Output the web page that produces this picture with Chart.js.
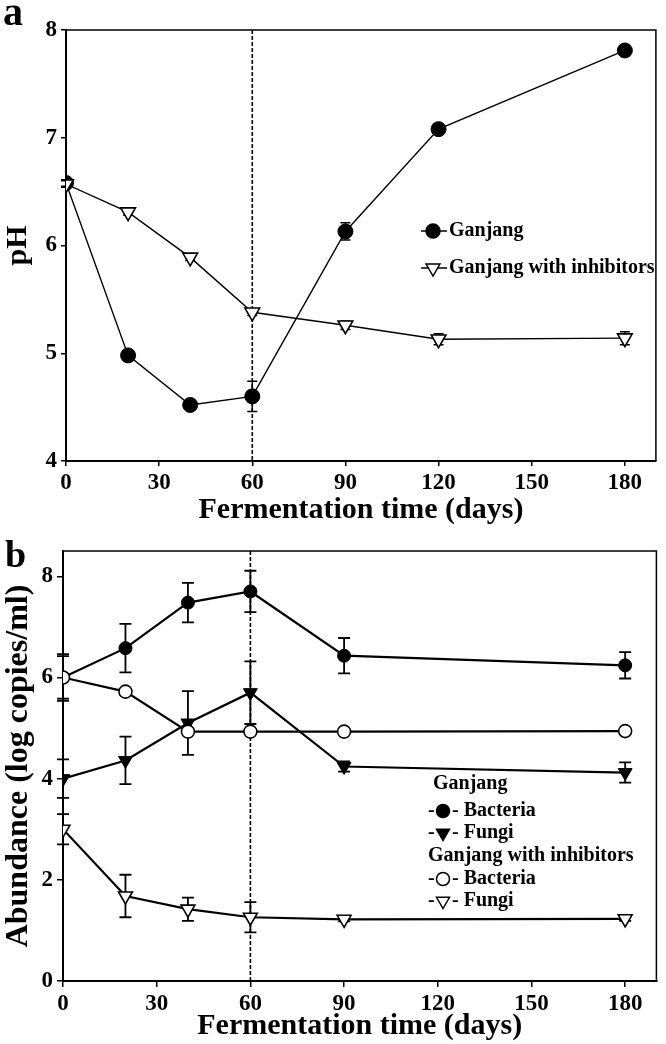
<!DOCTYPE html>
<html>
<head>
<meta charset="utf-8">
<script src="https://cdn.jsdelivr.net/npm/chart.js@4.4.0/dist/chart.umd.min.js"></script>
<style>
  body { margin: 0; background: #fff; }
  .panel { position: absolute; left: 0; width: 666px; }
  #panelA { top: 0; height: 530px; }
  #panelB { top: 530px; height: 514px; }
</style>
</head>
<body>
<div class="panel" id="panelA"><canvas id="chartA"></canvas></div>
<div class="panel" id="panelB"><canvas id="chartB"></canvas></div>
<script>
// panel a: pH
const daysA = [0, 20, 40, 60, 90, 120, 180];
const phGanjang = [6.58, 4.98, 4.52, 4.60, 6.13, 7.08, 7.81];
const phGanjangErr = [0.03, 0.05, 0.03, 0.14, 0.08, 0.03, 0.03];
const phInhib = [6.57, 6.31, 5.89, 5.38, 5.26, 5.13, 5.14];
const phInhibErr = [0.03, 0.03, 0.03, 0.03, 0.04, 0.05, 0.06];
const phTicks = [4, 5, 6, 7, 8];

// panel b: abundance
const daysB = [0, 20, 40, 60, 90, 180];
const bactGanjang = [6.0, 6.58, 7.48, 7.70, 6.43, 6.24];
const bactGanjangErr = [0.46, 0.48, 0.39, 0.41, 0.35, 0.26];
const fungiGanjang = [4.0, 4.36, 5.10, 5.70, 4.24, 4.12];
const fungiGanjangErr = [0.38, 0.47, 0.63, 0.62, 0.1, 0.2];
const bactInhib = [6.0, 5.72, 4.93, 4.93, 4.93, 4.94];
const bactInhibErr = [0.42, 0.04, 0.04, 0.04, 0.04, 0.04];
const fungiInhib = [3.0, 1.68, 1.42, 1.26, 1.22, 1.23];
const fungiInhibErr = [0.3, 0.42, 0.23, 0.3, 0.04, 0.04];
const abTicks = [0, 2, 4, 6, 8];

const dayTicks = [0, 30, 60, 90, 120, 150, 180];
const dividerDay = 60;

const SERIF = '"Liberation Serif", "Times New Roman", serif';

function pts(xs, ys) {
  return xs.map((x, i) => ({ x: x, y: ys[i] }));
}

function drawMarker(ctx, style, x, y, r, filled) {
  ctx.save();
  ctx.beginPath();
  if (style === 'circle') {
    ctx.arc(x, y, r, 0, Math.PI * 2);
  } else {
    // downward triangle
    ctx.moveTo(x - r * 0.866, y - r * 0.5);
    ctx.lineTo(x + r * 0.866, y - r * 0.5);
    ctx.lineTo(x, y + r);
    ctx.closePath();
  }
  ctx.fillStyle = filled ? '#000' : '#fff';
  ctx.fill();
  ctx.lineWidth = 1.5;
  ctx.strokeStyle = '#000';
  ctx.stroke();
  ctx.restore();
}

// error bars + dashed day-60 line, under the markers
const underlay = {
  id: 'underlay',
  beforeDatasetsDraw(chart) {
    const { ctx, chartArea, scales } = chart;
    const xd = scales.x.getPixelForValue(dividerDay);
    ctx.save();
    ctx.strokeStyle = '#000';
    ctx.lineWidth = 1.6;
    ctx.setLineDash([4, 2]);
    ctx.beginPath();
    ctx.moveTo(xd, chartArea.top);
    ctx.lineTo(xd, chartArea.bottom);
    ctx.stroke();
    ctx.setLineDash([]);

    chart.data.datasets.forEach((ds, i) => {
      if (!ds.errors) return;
      const meta = chart.getDatasetMeta(i);
      meta.data.forEach((p, j) => {
        const v = ds.data[j].y;
        const e = ds.errors[j];
        const yHi = scales.y.getPixelForValue(v + e);
        const yLo = scales.y.getPixelForValue(v - e);
        const cw = ds.capWidth;
        ctx.lineWidth = ds.errWidth;
        ctx.beginPath();
        ctx.moveTo(p.x, yHi); ctx.lineTo(p.x, yLo);
        ctx.moveTo(p.x - cw, yHi); ctx.lineTo(p.x + cw, yHi);
        ctx.moveTo(p.x - cw, yLo); ctx.lineTo(p.x + cw, yLo);
        ctx.stroke();
      });
    });
    ctx.restore();
  }
};

// top/right frame, panel letter and legend
const overlay = {
  id: 'overlay',
  afterDraw(chart) {
    const { ctx, chartArea } = chart;
    const o = chart.options.plugins.overlay;
    ctx.save();
    ctx.strokeStyle = '#000';
    ctx.lineWidth = 1.5;
    ctx.beginPath();
    ctx.moveTo(chartArea.left, chartArea.top);
    ctx.lineTo(chartArea.right, chartArea.top);
    ctx.lineTo(chartArea.right, chartArea.bottom);
    ctx.stroke();

    ctx.fillStyle = '#000';
    ctx.textBaseline = 'alphabetic';
    ctx.textAlign = 'left';
    ctx.font = 'bold ' + o.letterSize + 'px ' + SERIF;
    ctx.fillText(o.letter, o.letterX, o.letterY);

    ctx.font = 'bold 20px ' + SERIF;
    ctx.textBaseline = 'middle';
    o.items.forEach(it => {
      ctx.fillStyle = '#000';
      if (it.kind === 'header') {
        ctx.fillText(it.text, it.x, it.y);
      } else if (it.kind === 'line') {
        ctx.lineWidth = 1.5;
        ctx.beginPath();
        ctx.moveTo(it.x, it.y); ctx.lineTo(it.x + 26, it.y);
        ctx.stroke();
        drawMarker(ctx, it.style, it.x + 12, it.y, it.r, it.filled);
        ctx.fillText(it.text, it.x + 28, it.y);
      } else {
        ctx.fillText('-', it.x, it.y);
        drawMarker(ctx, it.style, it.x + 15, it.y, it.r, it.filled);
        ctx.fillText('- ' + it.text, it.x + 24, it.y);
      }
    });
    ctx.restore();
  }
};

function makeScales(yMin, yMax, yTicks, yTitle, yTitleSize, yWidth, xHeight, tickLen, xTitlePad) {
  const font = { family: SERIF, size: 23, weight: 'bold' };
  return {
    x: {
      type: 'linear', min: 0, max: 190,
      afterBuildTicks: s => { s.ticks = dayTicks.map(v => ({ value: v })); },
      afterFit: s => { s.height = xHeight; },
      grid: { drawOnChartArea: false, drawTicks: true, tickLength: tickLen, color: '#000', lineWidth: 1.5 },
      border: { display: true, color: '#000', width: 2 },
      ticks: { color: '#000', font: font, padding: 3, maxRotation: 0 },
      title: {
        display: true, text: 'Fermentation time (days)', color: '#000',
        font: { family: SERIF, size: 30, weight: 'bold' }, padding: { top: 0, bottom: xTitlePad }
      }
    },
    y: {
      type: 'linear', min: yMin, max: yMax,
      afterBuildTicks: s => { s.ticks = yTicks.map(v => ({ value: v })); },
      afterFit: s => { s.width = yWidth; },
      grid: { drawOnChartArea: false, drawTicks: true, tickLength: tickLen, color: '#000', lineWidth: 1.5 },
      border: { display: true, color: '#000', width: 2 },
      ticks: { color: '#000', font: font, padding: 4 },
      title: {
        display: true, text: yTitle, color: '#000',
        font: { family: SERIF, size: yTitleSize, weight: 'bold' }, padding: { top: 0, bottom: 0 }
      }
    }
  };
}

new Chart('chartA', {
  type: 'line',
  data: {
    datasets: [
      {
        label: 'Ganjang', data: pts(daysA, phGanjang), errors: phGanjangErr, order: 2,
        borderColor: '#000', borderWidth: 1.4, tension: 0,
        pointStyle: 'circle', pointRadius: 7.5, pointBackgroundColor: '#000',
        pointBorderColor: '#000', pointBorderWidth: 1, capWidth: 5, errWidth: 1.5
      },
      {
        label: 'Ganjang with inhibitors', data: pts(daysA, phInhib), errors: phInhibErr, order: 1,
        borderColor: '#000', borderWidth: 1.4, tension: 0,
        pointStyle: 'triangle', pointRotation: 180, pointRadius: 8.5, pointBackgroundColor: '#fff',
        pointBorderColor: '#000', pointBorderWidth: 1.6, capWidth: 5, errWidth: 1.5
      }
    ]
  },
  options: {
    responsive: true, maintainAspectRatio: false, animation: false,
    layout: { padding: { top: 30, right: 1, left: 0, bottom: 0 } },
    scales: makeScales(4, 8, phTicks, 'pH', 30, 66, 69, 5, 2),
    plugins: {
      legend: { display: false }, tooltip: { enabled: false },
      overlay: {
        letter: 'a', letterSize: 40, letterX: 3, letterY: 25,
        items: [
          { kind: 'line', text: 'Ganjang', style: 'circle', filled: true, r: 7, x: 421, y: 231 },
          { kind: 'line', text: 'Ganjang with inhibitors', style: 'tri', filled: false, r: 8, x: 421, y: 268 }
        ]
      }
    }
  },
  plugins: [underlay, overlay]
});

new Chart('chartB', {
  type: 'line',
  data: {
    datasets: [
      {
        label: 'Ganjang Bacteria', data: pts(daysB, bactGanjang), errors: bactGanjangErr, order: 2,
        borderColor: '#000', borderWidth: 2.2, tension: 0,
        pointStyle: 'circle', pointRadius: 6.5, pointBackgroundColor: '#000',
        pointBorderColor: '#000', pointBorderWidth: 1, capWidth: 6, errWidth: 1.8
      },
      {
        label: 'Ganjang Fungi', data: pts(daysB, fungiGanjang), errors: fungiGanjangErr, order: 2,
        borderColor: '#000', borderWidth: 2.2, tension: 0,
        pointStyle: 'triangle', pointRotation: 180, pointRadius: 8, pointBackgroundColor: '#000',
        pointBorderColor: '#000', pointBorderWidth: 1, capWidth: 6, errWidth: 1.8
      },
      {
        label: 'Ganjang with inhibitors Bacteria', data: pts(daysB, bactInhib), errors: bactInhibErr, order: 1,
        borderColor: '#000', borderWidth: 2.2, tension: 0,
        pointStyle: 'circle', pointRadius: 6.5, pointBackgroundColor: '#fff',
        pointBorderColor: '#000', pointBorderWidth: 1.6, capWidth: 6, errWidth: 1.8
      },
      {
        label: 'Ganjang with inhibitors Fungi', data: pts(daysB, fungiInhib), errors: fungiInhibErr, order: 1,
        borderColor: '#000', borderWidth: 2.2, tension: 0,
        pointStyle: 'triangle', pointRotation: 180, pointRadius: 8, pointBackgroundColor: '#fff',
        pointBorderColor: '#000', pointBorderWidth: 1.6, capWidth: 6, errWidth: 1.8
      }
    ]
  },
  options: {
    responsive: true, maintainAspectRatio: false, animation: false,
    layout: { padding: { top: 21, right: 2, left: 0, bottom: 0 } },
    scales: makeScales(0, 8.5, abTicks, 'Abundance (log copies/ml)', 32, 63, 63, 6, 0),
    plugins: {
      legend: { display: false }, tooltip: { enabled: false },
      overlay: {
        letter: 'b', letterSize: 38, letterX: 5, letterY: 37,
        items: [
          { kind: 'header', text: 'Ganjang', x: 433, y: 254 },
          { kind: 'dash', text: 'Bacteria', style: 'circle', filled: true, r: 6.5, x: 428, y: 281 },
          { kind: 'dash', text: 'Fungi', style: 'tri', filled: true, r: 7.5, x: 428, y: 303 },
          { kind: 'header', text: 'Ganjang with inhibitors', x: 428, y: 326 },
          { kind: 'dash', text: 'Bacteria', style: 'circle', filled: false, r: 6.5, x: 428, y: 349 },
          { kind: 'dash', text: 'Fungi', style: 'tri', filled: false, r: 7.5, x: 428, y: 371 }
        ]
      }
    }
  },
  plugins: [underlay, overlay]
});
</script>
</body>
</html>
